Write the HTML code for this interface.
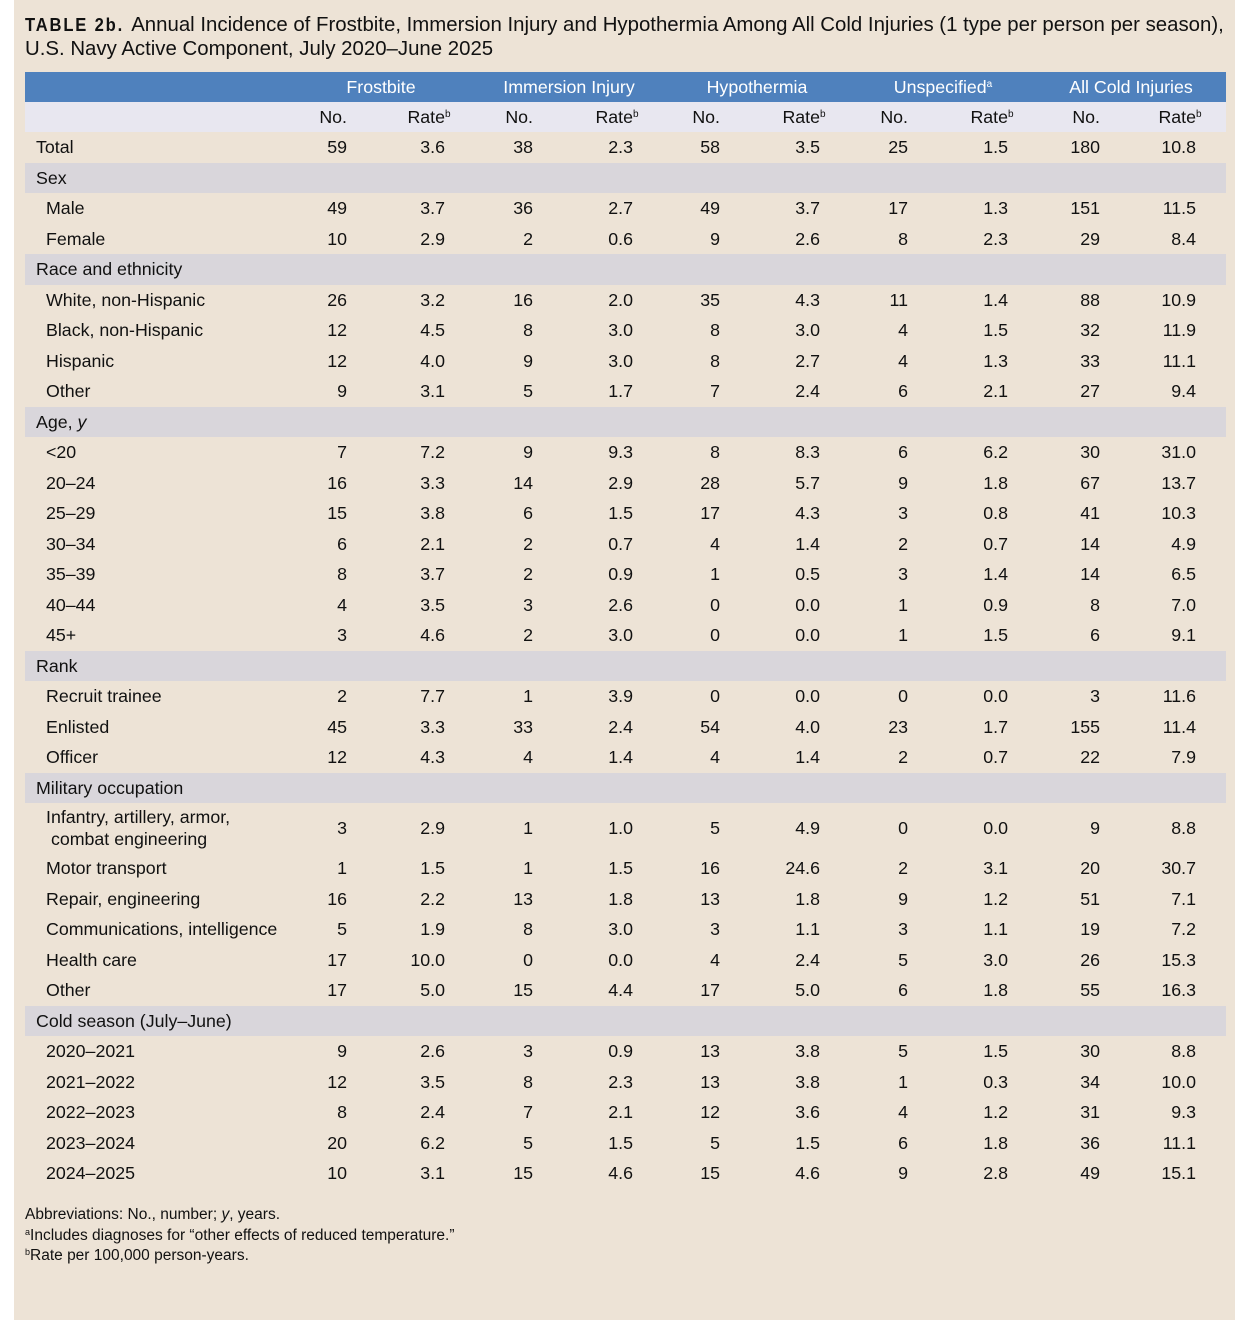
<!DOCTYPE html>
<html><head><meta charset="utf-8"><style>
*{margin:0;padding:0;box-sizing:border-box}
body{width:1250px;height:1320px;background:#fff;font-family:"Liberation Sans",Arial,sans-serif;color:#111;position:relative;overflow:hidden}
#panel{position:absolute;left:14px;top:0;width:1221px;height:1320px;background:#ede3d6}
.title{position:absolute;left:25px;top:13px;font-size:20.4px;line-height:24px;color:#111;white-space:nowrap}
.title b{font-weight:bold;letter-spacing:2px;font-size:18px;transform:scaleX(.92);display:inline-block;transform-origin:left;margin-right:-6px}
table{position:absolute;left:25px;top:72px;border-collapse:collapse;table-layout:fixed;width:1201px;font-size:17.8px}
td{padding:0;white-space:nowrap;text-align:right;height:30.5px;line-height:20px}
td.l{text-align:left;padding-left:21px}
td.c{text-align:left;padding-left:11px}
tr.band td{background:#d9d6db}
tr.hd td{background:#4f81bd;color:#fff;height:30px;position:relative}
tr.sh td{background:#e8e7f0;height:30px}
.g{position:absolute;top:5px;transform:translateX(-50%);white-space:nowrap}
sup{font-size:10px;vertical-align:6px;line-height:0}
.s{display:inline-block;width:0;text-align:left}
.n{position:absolute;left:25px;top:1205px;font-size:15.5px;line-height:20.5px}
.n sup{font-size:9px;vertical-align:5px}
</style></head><body>
<div id="panel"></div>
<div class="title"><b>TABLE 2b.</b> Annual Incidence of Frostbite, Immersion Injury and Hypothermia Among All Cold Injuries (1 type per person per season),<br>U.S. Navy Active Component, July 2020–June 2025</div>
<table>
<colgroup><col style="width:275px"><col style="width:47px"><col style="width:98px"><col style="width:88px"><col style="width:100px"><col style="width:87px"><col style="width:100px"><col style="width:88px"><col style="width:100px"><col style="width:92px"><col style="width:96px"><col style="width:30px"></colgroup>
<tr class="hd"><td></td><td colspan="11" style="position:relative"><span class="g" style="left:81px">Frostbite</span><span class="g" style="left:269px">Immersion Injury</span><span class="g" style="left:457px">Hypothermia</span><span class="g" style="left:643px">Unspecified<sup>a</sup></span><span class="g" style="left:831px">All Cold Injuries</span></td></tr>
<tr class="sh"><td></td><td>No.</td><td>Rate<span class="s"><sup>b</sup></span></td><td>No.</td><td>Rate<span class="s"><sup>b</sup></span></td><td>No.</td><td>Rate<span class="s"><sup>b</sup></span></td><td>No.</td><td>Rate<span class="s"><sup>b</sup></span></td><td>No.</td><td>Rate<span class="s"><sup>b</sup></span></td><td></td></tr>
<tr><td class="c">Total</td><td>59</td><td>3.6</td><td>38</td><td>2.3</td><td>58</td><td>3.5</td><td>25</td><td>1.5</td><td>180</td><td>10.8</td><td></td></tr>
<tr class="band"><td class="c" colspan="12">Sex</td></tr>
<tr><td class="l">Male</td><td>49</td><td>3.7</td><td>36</td><td>2.7</td><td>49</td><td>3.7</td><td>17</td><td>1.3</td><td>151</td><td>11.5</td><td></td></tr>
<tr><td class="l">Female</td><td>10</td><td>2.9</td><td>2</td><td>0.6</td><td>9</td><td>2.6</td><td>8</td><td>2.3</td><td>29</td><td>8.4</td><td></td></tr>
<tr class="band"><td class="c" colspan="12">Race and ethnicity</td></tr>
<tr><td class="l">White, non-Hispanic</td><td>26</td><td>3.2</td><td>16</td><td>2.0</td><td>35</td><td>4.3</td><td>11</td><td>1.4</td><td>88</td><td>10.9</td><td></td></tr>
<tr><td class="l">Black, non-Hispanic</td><td>12</td><td>4.5</td><td>8</td><td>3.0</td><td>8</td><td>3.0</td><td>4</td><td>1.5</td><td>32</td><td>11.9</td><td></td></tr>
<tr><td class="l">Hispanic</td><td>12</td><td>4.0</td><td>9</td><td>3.0</td><td>8</td><td>2.7</td><td>4</td><td>1.3</td><td>33</td><td>11.1</td><td></td></tr>
<tr><td class="l">Other</td><td>9</td><td>3.1</td><td>5</td><td>1.7</td><td>7</td><td>2.4</td><td>6</td><td>2.1</td><td>27</td><td>9.4</td><td></td></tr>
<tr class="band"><td class="c" colspan="12">Age, <i>y</i></td></tr>
<tr><td class="l">&lt;20</td><td>7</td><td>7.2</td><td>9</td><td>9.3</td><td>8</td><td>8.3</td><td>6</td><td>6.2</td><td>30</td><td>31.0</td><td></td></tr>
<tr><td class="l">20–24</td><td>16</td><td>3.3</td><td>14</td><td>2.9</td><td>28</td><td>5.7</td><td>9</td><td>1.8</td><td>67</td><td>13.7</td><td></td></tr>
<tr><td class="l">25–29</td><td>15</td><td>3.8</td><td>6</td><td>1.5</td><td>17</td><td>4.3</td><td>3</td><td>0.8</td><td>41</td><td>10.3</td><td></td></tr>
<tr><td class="l">30–34</td><td>6</td><td>2.1</td><td>2</td><td>0.7</td><td>4</td><td>1.4</td><td>2</td><td>0.7</td><td>14</td><td>4.9</td><td></td></tr>
<tr><td class="l">35–39</td><td>8</td><td>3.7</td><td>2</td><td>0.9</td><td>1</td><td>0.5</td><td>3</td><td>1.4</td><td>14</td><td>6.5</td><td></td></tr>
<tr><td class="l">40–44</td><td>4</td><td>3.5</td><td>3</td><td>2.6</td><td>0</td><td>0.0</td><td>1</td><td>0.9</td><td>8</td><td>7.0</td><td></td></tr>
<tr><td class="l">45+</td><td>3</td><td>4.6</td><td>2</td><td>3.0</td><td>0</td><td>0.0</td><td>1</td><td>1.5</td><td>6</td><td>9.1</td><td></td></tr>
<tr class="band"><td class="c" colspan="12">Rank</td></tr>
<tr><td class="l">Recruit trainee</td><td>2</td><td>7.7</td><td>1</td><td>3.9</td><td>0</td><td>0.0</td><td>0</td><td>0.0</td><td>3</td><td>11.6</td><td></td></tr>
<tr><td class="l">Enlisted</td><td>45</td><td>3.3</td><td>33</td><td>2.4</td><td>54</td><td>4.0</td><td>23</td><td>1.7</td><td>155</td><td>11.4</td><td></td></tr>
<tr><td class="l">Officer</td><td>12</td><td>4.3</td><td>4</td><td>1.4</td><td>4</td><td>1.4</td><td>2</td><td>0.7</td><td>22</td><td>7.9</td><td></td></tr>
<tr class="band"><td class="c" colspan="12">Military occupation</td></tr>
<tr><td class="l" style="height:50px;line-height:22px">Infantry, artillery, armor,<br>&nbsp;combat engineering</td><td>3</td><td>2.9</td><td>1</td><td>1.0</td><td>5</td><td>4.9</td><td>0</td><td>0.0</td><td>9</td><td>8.8</td><td></td></tr>
<tr><td class="l">Motor transport</td><td>1</td><td>1.5</td><td>1</td><td>1.5</td><td>16</td><td>24.6</td><td>2</td><td>3.1</td><td>20</td><td>30.7</td><td></td></tr>
<tr><td class="l">Repair, engineering</td><td>16</td><td>2.2</td><td>13</td><td>1.8</td><td>13</td><td>1.8</td><td>9</td><td>1.2</td><td>51</td><td>7.1</td><td></td></tr>
<tr><td class="l">Communications, intelligence</td><td>5</td><td>1.9</td><td>8</td><td>3.0</td><td>3</td><td>1.1</td><td>3</td><td>1.1</td><td>19</td><td>7.2</td><td></td></tr>
<tr><td class="l">Health care</td><td>17</td><td>10.0</td><td>0</td><td>0.0</td><td>4</td><td>2.4</td><td>5</td><td>3.0</td><td>26</td><td>15.3</td><td></td></tr>
<tr><td class="l">Other</td><td>17</td><td>5.0</td><td>15</td><td>4.4</td><td>17</td><td>5.0</td><td>6</td><td>1.8</td><td>55</td><td>16.3</td><td></td></tr>
<tr class="band"><td class="c" colspan="12">Cold season (July–June)</td></tr>
<tr><td class="l">2020–2021</td><td>9</td><td>2.6</td><td>3</td><td>0.9</td><td>13</td><td>3.8</td><td>5</td><td>1.5</td><td>30</td><td>8.8</td><td></td></tr>
<tr><td class="l">2021–2022</td><td>12</td><td>3.5</td><td>8</td><td>2.3</td><td>13</td><td>3.8</td><td>1</td><td>0.3</td><td>34</td><td>10.0</td><td></td></tr>
<tr><td class="l">2022–2023</td><td>8</td><td>2.4</td><td>7</td><td>2.1</td><td>12</td><td>3.6</td><td>4</td><td>1.2</td><td>31</td><td>9.3</td><td></td></tr>
<tr><td class="l">2023–2024</td><td>20</td><td>6.2</td><td>5</td><td>1.5</td><td>5</td><td>1.5</td><td>6</td><td>1.8</td><td>36</td><td>11.1</td><td></td></tr>
<tr><td class="l">2024–2025</td><td>10</td><td>3.1</td><td>15</td><td>4.6</td><td>15</td><td>4.6</td><td>9</td><td>2.8</td><td>49</td><td>15.1</td><td></td></tr>
</table>
<div class="n">Abbreviations: No., number; <i>y</i>, years.<br><sup>a</sup>Includes diagnoses for “other effects of reduced temperature.”<br><sup>b</sup>Rate per 100,000 person-years.</div>
</body></html>
